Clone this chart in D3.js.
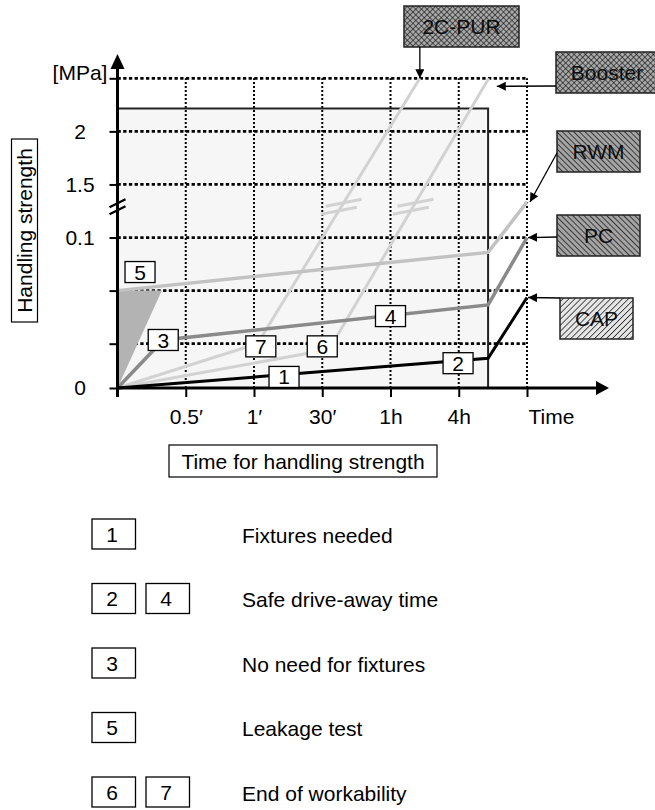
<!DOCTYPE html>
<html>
<head>
<meta charset="utf-8">
<script src="https://cdn.jsdelivr.net/npm/d3@7"></script>
<style>
	body { margin: 0; background: #fff; }
	svg { display: block; font-family: 'Liberation Sans', Arial, Helvetica, sans-serif; }
</style>
</head>
<body>
<svg width="655" height="810"></svg>
<script>
// axis labels
const xTicks = ['0.5\u2032', '1\u2032', '30\u2032', '1h', '4h', 'Time']
const yTicks = ['0', '', '', '0.1', '1.5', '2', '[MPa]']

// curves in grid units (x = tick index, y = grid level)
const capLine = [[0, 0], [5.43, 0.67], [6, 1.87]]
const pcLine = [[0, 0], [0.67, 1.07], [5.43, 1.73], [6, 3]]
const rwmLine = [[0, 2], [5.43, 2.72], [6, 3.67]]
const leakArea = [[0, 0], [0, 2], [0.65, 2]]
const purLine = [[0, 0], [2.05, 1], [4.43, 6]]
const boosterLine = [[0, 0], [3.1, 0.87], [5.44, 6]]
const handlingZone = [5.43, 5.43]
const breakLevel = 3.58

// numbered markers
const markerLabels = ['1', '2', '3', '4', '5', '6', '7']
const markerX = [2.44, 4.99, 0.67, 4.0, 0.33, 3.0, 2.1]
const markerY = [0.25, 0.56, 1.07, 1.52, 2.35, 0.94, 0.94]

// legend
const legendBoxes = [['1'], ['2', '4'], ['3'], ['5'], ['6', '7']]
const legendTexts = ['Fixtures needed', 'Safe drive-away time', 'No need for fixtures', 'Leakage test', 'End of workability']

const FS = 21
const svg = d3.select('svg')
const defs = svg.append('defs')

const x = d3.scaleLinear().domain([0, 6]).range([117.5, 527])
const y = d3.scaleLinear().domain([0, 1, 6]).range([388, 343.7, 78.3])

// hatch patterns (lines only, background drawn separately)
function hatch(id, angle, cross, gap, sw) {
	const p = defs.append('pattern')
		.attr('id', id)
		.attr('patternUnits', 'userSpaceOnUse')
		.attr('width', gap).attr('height', gap)
		.attr('patternTransform', `rotate(${angle})`)
	p.append('line').attr('x1', 0).attr('y1', 0).attr('x2', 0).attr('y2', gap)
		.attr('stroke', '#000').attr('stroke-width', sw)
	if (cross)
		p.append('line').attr('x1', 0).attr('y1', 0).attr('x2', gap).attr('y2', 0)
			.attr('stroke', '#000').attr('stroke-width', sw)
}
hatch('cross', 45, true, 4, 1.1)
hatch('back', -45, false, 4, 1.3)
hatch('fwd', 45, false, 4.2, 1.3)

defs.append('marker')
	.attr('id', 'arr')
	.attr('viewBox', '0 0 10 10')
	.attr('refX', 10).attr('refY', 5)
	.attr('markerUnits', 'userSpaceOnUse')
	.attr('markerWidth', 11).attr('markerHeight', 9)
	.attr('orient', 'auto')
	.append('path').attr('d', 'M0,0 L10,5 L0,10 z').attr('fill', '#000')

// shaded handling zone
svg.append('rect')
	.attr('x', x(0)).attr('y', y(handlingZone[1]))
	.attr('width', x(handlingZone[0]) - x(0))
	.attr('height', y(0) - y(handlingZone[1]))
	.attr('fill', '#f6f6f6')

// grid
const grid = svg.append('g').attr('stroke', '#000')
grid.selectAll('.hg')
	.data(d3.range(1, 7))
	.join('line')
	.attr('x1', x(0)).attr('x2', x(6))
	.attr('y1', d => y(d)).attr('y2', d => y(d))
	.attr('stroke-width', 2.8)
	.attr('stroke-dasharray', '3.3,2.4')
grid.selectAll('.vg')
	.data(d3.range(1, 7))
	.join('line')
	.attr('x1', d => x(d)).attr('x2', d => x(d))
	.attr('y1', y(0)).attr('y2', y(6))
	.attr('stroke-width', 2)
	.attr('stroke-dasharray', '2,2')

svg.append('path')
	.attr('d', `M${x(0)},${y(handlingZone[1])} H${x(handlingZone[0])} V${y(0)}`)
	.attr('fill', 'none')
	.attr('stroke', '#222')
	.attr('stroke-width', 2)

// curves
const line = d3.line().x(d => x(d[0])).y(d => y(d[1]))

svg.append('path')
	.attr('d', line(leakArea) + 'Z')
	.attr('fill', '#b3b3b3')

const curves = [
	{data: purLine, color: '#d2d2d2', w: 3},
	{data: boosterLine, color: '#d2d2d2', w: 3},
	{data: rwmLine, color: '#c2c2c2', w: 3.5},
	{data: pcLine, color: '#8a8a8a', w: 3.5},
	{data: capLine, color: '#000', w: 3}
]
svg.append('g')
	.attr('fill', 'none')
	.selectAll('path')
	.data(curves)
	.join('path')
	.attr('d', d => line(d.data))
	.attr('stroke', d => d.color)
	.attr('stroke-width', d => d.w)

// break marks on the two steep curves
function pointAtLevel(data, lv) {
	for (let i = 1; i < data.length; i++) {
		const [x0, y0] = data[i - 1], [x1, y1] = data[i]
		if (lv >= y0 && lv <= y1) {
			const px0 = x(x0), py0 = y(y0), px1 = x(x1), py1 = y(y1)
			const t = (y(lv) - py0) / (py1 - py0)
			return [px0 + t * (px1 - px0), y(lv)]
		}
	}
}
const brk = svg.append('g').attr('stroke', '#d2d2d2').attr('stroke-width', 3)
;[purLine, boosterLine].forEach(data => {
	const [cx, cy] = pointAtLevel(data, breakLevel)
	;[-4, 4].forEach(off => {
		brk.append('line')
			.attr('x1', cx - 18 - off * 0.6).attr('y1', cy + 3.5 + off)
			.attr('x2', cx + 18 - off * 0.6).attr('y2', cy - 3.5 + off)
	})
})

// axes
const xAxis = svg.append('g')
	.attr('transform', `translate(0,${y(0)})`)
	.call(d3.axisBottom(x).tickValues(d3.range(0, 7)).tickFormat(d => d === 0 ? '' : xTicks[d - 1]).tickSize(9).tickPadding(12))
xAxis.select('.domain').remove()
xAxis.selectAll('line').attr('stroke', '#000').attr('stroke-width', 2)
xAxis.selectAll('text')
	.attr('font-size', FS)
	.attr('font-family', 'Liberation Sans, Arial, sans-serif')
	.attr('fill', '#000')
xAxis.selectAll('.tick').filter(d => d === 6).select('text')
	.attr('text-anchor', 'start').attr('dx', 1)

const yAxis = svg.append('g')
	.attr('transform', `translate(${x(0)},0)`)
	.call(d3.axisLeft(y).tickValues(d3.range(0, 7)).tickFormat(d => yTicks[d]).tickSize(8))
yAxis.select('.domain').remove()
yAxis.selectAll('line').attr('stroke', '#000').attr('stroke-width', 2)
yAxis.selectAll('text')
	.attr('x', 80 - x(0))
	.attr('text-anchor', 'middle')
	.attr('font-size', FS)
	.attr('font-family', 'Liberation Sans, Arial, sans-serif')
	.attr('fill', '#000')
yAxis.selectAll('.tick').filter(d => d === 6).select('text').attr('dy', '0.05em')

svg.append('line')
	.attr('x1', x(0)).attr('x2', 600)
	.attr('y1', y(0)).attr('y2', y(0))
	.attr('stroke', '#000').attr('stroke-width', 3)
svg.append('path').attr('d', `M609,${y(0)} L596,${y(0) - 7} L596,${y(0) + 7} Z`)
svg.append('line')
	.attr('x1', x(0)).attr('x2', x(0))
	.attr('y1', y(0) + 9).attr('y2', 64)
	.attr('stroke', '#000').attr('stroke-width', 3)
svg.append('path').attr('d', `M${x(0)},54 L${x(0) - 7},69 L${x(0) + 7},69 Z`)

// axis break
;[-3.5, 3.5].forEach(off => {
	svg.append('line')
		.attr('x1', x(0) - 8).attr('y1', y(breakLevel) + 4 + off)
		.attr('x2', x(0) + 8).attr('y2', y(breakLevel) - 4 + off)
		.attr('stroke', '#000').attr('stroke-width', 2.2)
})

// numbered boxes
const mk = svg.append('g')
	.selectAll('g')
	.data(markerLabels)
	.join('g')
	.attr('transform', (d, i) => `translate(${x(markerX[i])},${y(markerY[i])})`)
mk.append('rect')
	.attr('x', -15).attr('y', -10.5).attr('width', 30).attr('height', 21)
	.attr('fill', '#fff').attr('stroke', '#000').attr('stroke-width', 1.3)
mk.append('text')
	.attr('text-anchor', 'middle')
	.attr('dy', '0.36em')
	.attr('font-size', FS)
	.text(d => d)

// material labels with arrows
const labels = [
	{name: 'Booster', pat: 'cross', bg: '#a9a9a9', box: [556, 52, 102, 41], from: [556, 86], to: [x(5.44) + 8, y(6) + 8]},
	{name: '2C-PUR', pat: 'cross', bg: '#a9a9a9', box: [404, 6, 115, 41], from: [x(4.43), 47], to: [x(4.43), y(6)]},
	{name: 'RWM', pat: 'back', bg: '#a4a4a4', box: [557, 131, 83, 41], from: [557, 153], to: [x(6) + 3, y(3.67)]},
	{name: 'PC', pat: 'back', bg: '#a4a4a4', box: [557, 215, 83, 41], from: [557, 237], to: [x(6) + 1, y(3)]},
	{name: 'CAP', pat: 'fwd', bg: '#e6e6e6', box: [560, 298, 73, 41], from: [560, 298], to: [x(6) + 1, y(1.87)]}
]
labels.forEach(l => {
	const [bx, by, bw, bh] = l.box
	const g = svg.append('g')
	g.append('rect').attr('x', bx).attr('y', by).attr('width', bw).attr('height', bh).attr('fill', l.bg)
	g.append('text')
		.attr('x', bx + bw / 2).attr('y', by + bh / 2)
		.attr('dy', '0.36em')
		.attr('text-anchor', 'middle')
		.attr('font-size', FS)
		.attr('fill', '#111')
		.text(l.name)
	g.append('rect').attr('x', bx).attr('y', by).attr('width', bw).attr('height', bh)
		.attr('fill', `url(#${l.pat})`)
		.attr('stroke', '#222').attr('stroke-width', 1.5)
	svg.append('line')
		.attr('x1', l.from[0]).attr('y1', l.from[1])
		.attr('x2', l.to[0]).attr('y2', l.to[1])
		.attr('stroke', '#000').attr('stroke-width', 1.3)
		.attr('marker-end', 'url(#arr)')
})

// axis titles in boxes
const yt = svg.append('g').attr('transform', 'translate(24.5,230.5) rotate(-90)')
yt.append('rect').attr('x', -91.5).attr('y', -13).attr('width', 183).attr('height', 26)
	.attr('fill', '#fff').attr('stroke', '#000').attr('stroke-width', 1.2)
yt.append('text').attr('text-anchor', 'middle').attr('dy', '0.36em').attr('font-size', FS).text('Handling strength')

const xt = svg.append('g').attr('transform', 'translate(303,461)')
xt.append('rect').attr('x', -134).attr('y', -16).attr('width', 268).attr('height', 32)
	.attr('fill', '#fff').attr('stroke', '#000').attr('stroke-width', 1.2)
xt.append('text').attr('text-anchor', 'middle').attr('dy', '0.36em').attr('font-size', FS).text('Time for handling strength')

// legend
const lg = svg.append('g')
	.selectAll('g')
	.data(legendTexts)
	.join('g')
	.attr('transform', (d, i) => `translate(92,${519 + i * 64.5})`)
lg.each(function (d, i) {
	const row = d3.select(this)
	legendBoxes[i].forEach((b, j) => {
		row.append('rect')
			.attr('x', j * 54).attr('y', 0).attr('width', 43.5).attr('height', 30)
			.attr('fill', '#fff').attr('stroke', '#000').attr('stroke-width', 1.3)
		row.append('text')
			.attr('x', j * 54 + 20).attr('y', 15)
			.attr('dy', '0.36em')
			.attr('text-anchor', 'middle')
			.attr('font-size', FS)
			.text(b)
	})
	row.append('text')
		.attr('x', 150).attr('y', 16)
		.attr('dy', '0.36em')
		.attr('font-size', FS)
		.text(d)
})
</script>
</body>
</html>
